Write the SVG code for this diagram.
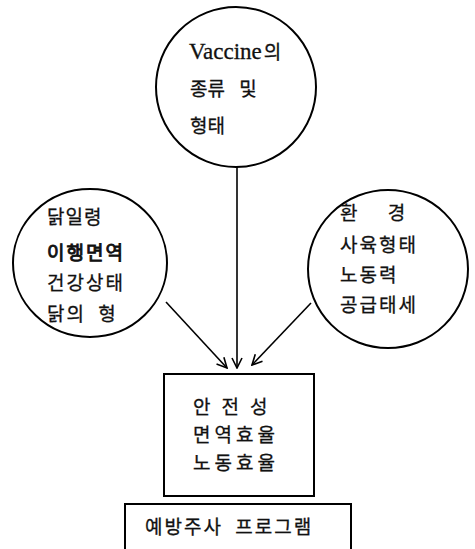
<svg xmlns="http://www.w3.org/2000/svg" width="475" height="549" viewBox="0 0 475 549">
<defs>
<style>
.shape{fill:none;stroke:#000;stroke-width:2}
.conn{fill:none;stroke:#000;stroke-width:1.6}
.ko{font-family:"Noto Sans CJK KR","Noto Sans",sans-serif;font-size:19px;fill:#111;stroke:#111;stroke-width:0.3}
.heavy{stroke-width:0.9}
.en{font-family:"Liberation Serif",serif;font-size:23px;fill:#111;stroke:#111;stroke-width:0.3}
</style>
<marker id="arr" viewBox="0 0 12 12" refX="11" refY="6" markerWidth="12" markerHeight="12" markerUnits="userSpaceOnUse" orient="auto">
<path d="M1,1 L11,6 L1,11" fill="none" stroke="#000" stroke-width="1.6"/>
</marker>
</defs>
<rect width="475" height="549" fill="#fff"/>
<g id="connectors">
<line class="conn" x1="237" y1="167" x2="237" y2="368" marker-end="url(#arr)"/>
<line class="conn" x1="166" y1="302" x2="227" y2="368" marker-end="url(#arr)"/>
<line class="conn" x1="311" y1="303" x2="252" y2="365" marker-end="url(#arr)"/>
</g>
<g id="vaccine">
<ellipse class="shape" cx="236" cy="87" rx="80" ry="80"/>
<text x="189" y="59"><tspan class="en">Vaccine</tspan><tspan class="ko" dx="2">의</tspan></text>
<text class="ko" x="190" y="96" font-size="20">종류 <tspan dx="10">및</tspan></text>
<text class="ko" x="190" y="133" font-size="20">형태</text>
</g>
<g id="chicken">
<ellipse class="shape" cx="90" cy="263" rx="77" ry="74"/>
<text class="ko" x="47" y="224" letter-spacing="1">닭일령</text>
<text class="ko heavy" x="47" y="260" letter-spacing="2">이행면역</text>
<text class="ko" x="47" y="290" letter-spacing="2">건강상태</text>
<text class="ko" x="47" y="321" letter-spacing="2">닭의 <tspan dx="6">형</tspan></text>
</g>
<g id="environment">
<ellipse class="shape" cx="388" cy="269" rx="80" ry="79"/>
<text class="ko" x="340" y="220">환 <tspan dx="26">경</tspan></text>
<text class="ko" x="340" y="252" letter-spacing="2">사육형태</text>
<text class="ko" x="340" y="282" letter-spacing="2">노동력</text>
<text class="ko" x="340" y="312" letter-spacing="2">공급태세</text>
</g>
<g id="result">
<rect class="shape" x="164" y="374" width="150" height="122"/>
<text class="ko" x="193" y="414" letter-spacing="11">안전성</text>
<text class="ko" x="193" y="442" letter-spacing="4">면역효율</text>
<text class="ko" x="193" y="470" letter-spacing="4">노동효율</text>
</g>
<g id="program">
<path class="shape" d="M125,560 L125,504 L351,504 L351,560"/>
<text class="ko" x="145" y="534" letter-spacing="2">예방주사 <tspan dx="6">프로그램</tspan></text>
</g>
</svg>
